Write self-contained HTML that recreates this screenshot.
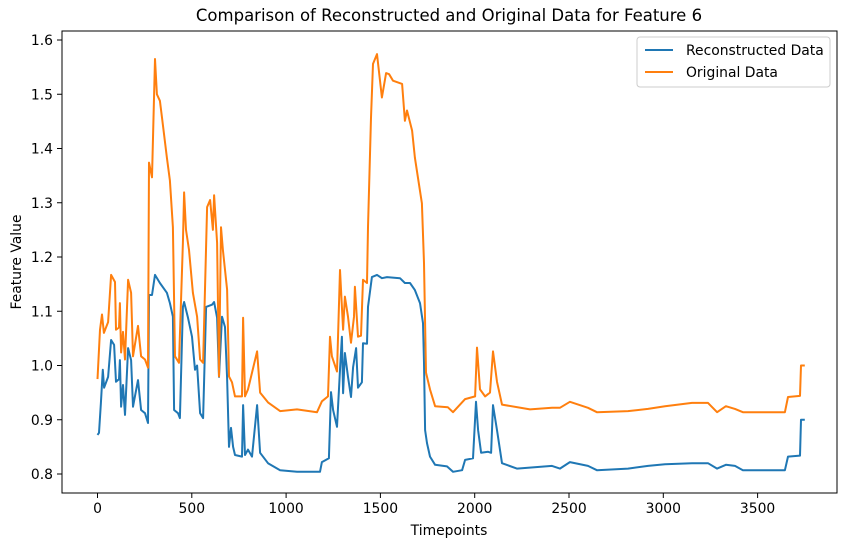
<!DOCTYPE html>
<html><head><meta charset="utf-8"><style>
body{margin:0;background:#fff;}
svg{display:block;font-family:"DejaVu Sans","Liberation Sans",sans-serif;}
</style></head><body>
<svg id="chart" width="846" height="547" viewBox="0 0 846 547" xmlns="http://www.w3.org/2000/svg">
<rect width="846" height="547" fill="#fff"/>
<text x="449" y="21" text-anchor="middle" font-size="16.5" fill="#000">Comparison of Reconstructed and Original Data for Feature 6</text>
<g id="xticks"></g>
<g id="yticks"></g>
<text x="449" y="535" text-anchor="middle" font-size="13.9">Timepoints</text>
<text transform="translate(21,262) rotate(-90)" text-anchor="middle" font-size="13.9">Feature Value</text>
<g id="series"></g>
<rect x="62" y="31" width="775" height="462" fill="none" stroke="#000" stroke-width="1"/>
<g>
<rect x="637" y="37" width="193" height="50" rx="3" fill="#fff" fill-opacity="0.8" stroke="#ccc"/>
<line x1="645" y1="50" x2="673" y2="50" stroke="#1f77b4" stroke-width="2"/>
<text x="686" y="55" font-size="13.9">Reconstructed Data</text>
<line x1="645" y1="72" x2="673" y2="72" stroke="#ff7f0e" stroke-width="2"/>
<text x="686" y="77" font-size="13.9">Original Data</text>
</g>
</svg>
<script>
const xTickValues=[0,500,1000,1500,2000,2500,3000,3500];
const yTickValues=[0.8,0.9,1.0,1.1,1.2,1.3,1.4,1.5,1.6];
const reconT=[0,8,18,28,35,56,72,88,98,114,119,125,135,146,162,178,188,215,231,252,268,273,289,305,331,368,384,400,406,427,437,453,459,480,501,517,528,544,560,576,607,618,634,644,660,676,687,697,708,719,729,766,772,782,798,819,846,862,904,968,1058,1164,1180,1190,1227,1238,1249,1270,1286,1296,1302,1312,1328,1344,1355,1371,1381,1402,1408,1429,1434,1455,1482,1508,1535,1604,1630,1657,1683,1710,1726,1731,1737,1747,1763,1790,1853,1885,1933,1949,1991,2007,2018,2034,2071,2087,2097,2118,2145,2224,2410,2452,2505,2601,2648,2813,2919,3009,3152,3237,3285,3332,3380,3422,3645,3661,3725,3730,3750];
const reconV=[0.872,0.876,0.931,0.992,0.959,0.979,1.047,1.038,0.97,0.975,1.01,0.924,0.964,0.909,1.032,1.01,0.924,0.973,0.918,0.912,0.894,1.13,1.13,1.167,1.152,1.134,1.115,1.09,0.918,0.912,0.903,1.108,1.117,1.088,1.053,0.992,1.0,0.912,0.903,1.108,1.112,1.117,1.088,0.979,1.09,1.071,0.977,0.85,0.885,0.85,0.835,0.832,0.927,0.835,0.845,0.832,0.927,0.839,0.82,0.807,0.804,0.804,0.804,0.822,0.829,0.951,0.918,0.887,0.992,1.053,0.949,1.023,0.979,0.942,0.997,1.032,0.959,0.969,1.041,1.04,1.108,1.163,1.167,1.161,1.163,1.161,1.152,1.152,1.139,1.115,1.078,1.005,0.881,0.857,0.832,0.817,0.814,0.804,0.807,0.826,0.829,0.933,0.881,0.839,0.841,0.839,0.927,0.881,0.82,0.81,0.815,0.81,0.822,0.815,0.807,0.81,0.815,0.818,0.82,0.82,0.81,0.817,0.815,0.807,0.807,0.832,0.834,0.9,0.9];
const origT=[0,13,24,34,56,72,93,98,114,119,125,135,146,162,178,188,215,231,252,268,273,289,305,315,331,342,368,384,400,411,432,453,459,469,485,506,528,544,560,581,597,612,618,634,644,655,665,687,697,713,729,766,772,782,798,846,862,904,968,1058,1164,1190,1222,1233,1243,1270,1286,1302,1312,1328,1344,1360,1365,1381,1397,1408,1429,1434,1450,1461,1482,1508,1530,1546,1567,1615,1630,1641,1668,1683,1699,1720,1731,1742,1763,1790,1858,1885,1949,2002,2012,2028,2055,2081,2097,2118,2145,2293,2410,2452,2505,2601,2648,2813,2919,3009,3152,3237,3285,3332,3380,3422,3645,3661,3725,3730,3750];
const origV=[0.975,1.066,1.094,1.06,1.08,1.167,1.154,1.066,1.07,1.115,1.024,1.062,1.011,1.158,1.134,1.017,1.073,1.017,1.011,0.996,1.374,1.347,1.565,1.5,1.488,1.457,1.383,1.341,1.255,1.017,1.005,1.226,1.319,1.25,1.213,1.134,1.09,1.011,1.005,1.292,1.305,1.25,1.314,1.226,0.98,1.255,1.213,1.14,0.98,0.969,0.943,0.943,1.088,0.943,0.956,1.026,0.95,0.932,0.916,0.919,0.914,0.934,0.943,1.053,1.017,0.989,1.176,1.066,1.127,1.09,1.042,1.09,1.145,1.053,1.055,1.158,1.152,1.255,1.457,1.556,1.574,1.494,1.539,1.537,1.525,1.519,1.451,1.47,1.433,1.383,1.347,1.299,1.189,0.987,0.956,0.925,0.923,0.914,0.938,0.943,1.033,0.956,0.943,0.95,1.026,0.97,0.928,0.919,0.922,0.922,0.933,0.922,0.914,0.916,0.92,0.925,0.931,0.931,0.914,0.925,0.92,0.914,0.914,0.942,0.944,1.0,1.0];

const NS="http://www.w3.org/2000/svg";
function xScale(t){return 97.5+t*0.1886;}
function yScale(v){return 474-(v-0.8)*542.5;}
const xg=document.getElementById('xticks');
xTickValues.forEach(function(t){
  const l=document.createElementNS(NS,'line');
  
  
  l.setAttribute('x1',xScale(t));l.setAttribute('x2',xScale(t));
  l.setAttribute('y1',493);l.setAttribute('y2',498);l.setAttribute('stroke','#000');
  xg.appendChild(l);
  const tx=document.createElementNS(NS,'text');
  
  
  tx.setAttribute('x',xScale(t));tx.setAttribute('y',513);
  tx.setAttribute('text-anchor','middle');tx.setAttribute('font-size','13.9');
  tx.textContent=String(t);
  xg.appendChild(tx);
});
const yg=document.getElementById('yticks');
yTickValues.forEach(function(v){
  const l=document.createElementNS(NS,'line');
  
  
  l.setAttribute('x1',57);l.setAttribute('x2',62);
  l.setAttribute('y1',yScale(v));l.setAttribute('y2',yScale(v));l.setAttribute('stroke','#000');
  yg.appendChild(l);
  const tx=document.createElementNS(NS,'text');
  
  
  tx.setAttribute('x',53);tx.setAttribute('y',yScale(v)+5);
  tx.setAttribute('text-anchor','end');tx.setAttribute('font-size','13.9');
  tx.textContent=v.toFixed(1);
  yg.appendChild(tx);
});
function drawLine(ts,vs,color,name){
  const p=document.createElementNS(NS,'polyline');
  
  
  p.setAttribute('points',ts.map(function(t,i){return xScale(t).toFixed(1)+','+yScale(vs[i]).toFixed(1);}).join(' '));
  p.setAttribute('fill','none');p.setAttribute('stroke',color);
  p.setAttribute('stroke-width','2');p.setAttribute('stroke-linejoin','round');
  document.getElementById('series').appendChild(p);
}
drawLine(reconT,reconV,'#1f77b4','reconstructed-data-line');
drawLine(origT,origV,'#ff7f0e','original-data-line');
</script>
</body></html>
